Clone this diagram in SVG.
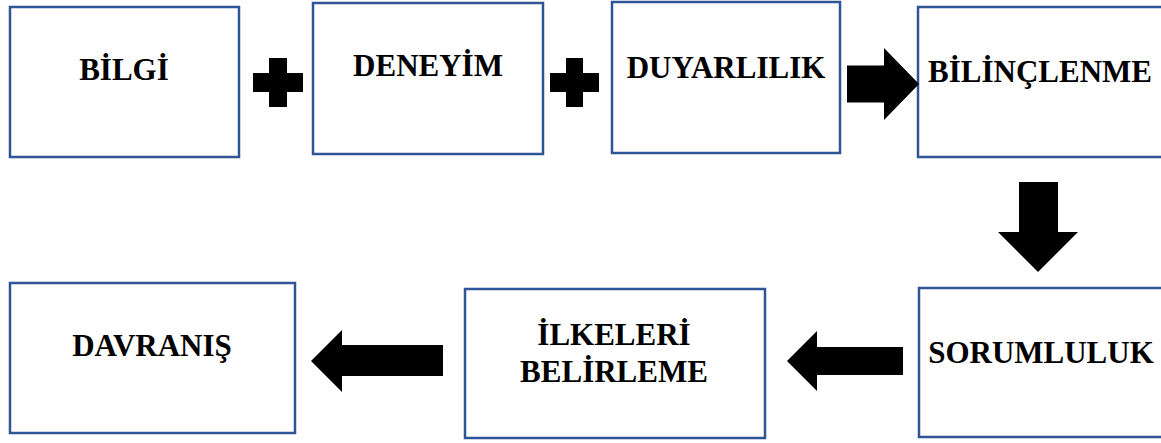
<svg xmlns="http://www.w3.org/2000/svg" width="1161" height="443" viewBox="0 0 1161 443">
<style>
.box{fill:#ffffff;stroke:#2F5597;stroke-width:2.5}
.lbl{font-family:"Liberation Serif","Times New Roman",serif;font-weight:bold;font-size:31px;fill:#000000;text-anchor:middle}
.shape{fill:#000000}
</style>
<rect width="1161" height="443" fill="#ffffff"/>
<g id="node-bilgi">
<rect class="box" x="10" y="7" width="229" height="150"/>
<text class="lbl" x="124" y="80">BİLGİ</text>
</g>
<g id="node-deneyim">
<rect class="box" x="313" y="3" width="230" height="151"/>
<text class="lbl" x="428" y="76">DENEYİM</text>
</g>
<g id="node-duyarlilik">
<rect class="box" x="612" y="2" width="228" height="151"/>
<text class="lbl" x="726" y="78">DUYARLILIK</text>
</g>
<g id="node-bilinclenme">
<rect class="box" x="918" y="7" width="260" height="150"/>
<text class="lbl" x="1040" y="82">BİLİNÇLENME</text>
</g>
<g id="node-sorumluluk">
<rect class="box" x="919" y="288" width="260" height="149"/>
<text class="lbl" x="1041" y="363">SORUMLULUK</text>
</g>
<g id="node-ilkeleri">
<rect class="box" x="465" y="289" width="300" height="149"/>
<text class="lbl" x="614" y="345">İLKELERİ</text>
<text class="lbl" x="614" y="382">BELİRLEME</text>
</g>
<g id="node-davranis">
<rect class="box" x="10" y="283" width="285" height="150"/>
<text class="lbl" x="152" y="356">DAVRANIŞ</text>
</g>
<g id="connectors">
<path class="shape" d="M253 73H269V58H287V73H303V92H287V107H269V92H253Z"/>
<path class="shape" d="M550 73H566V58H583V73H599V92H583V107H566V92H550Z"/>
<path class="shape" d="M847 65.5H884V48L919 84L884 120V102.5H847Z"/>
<path class="shape" d="M1019 182H1058V232H1078L1038 272L998 232H1019Z"/>
<path class="shape" d="M903 347V375H817V391L787 361L817 331V347Z"/>
<path class="shape" d="M443 345V376H342V392L311 361L342 330V345Z"/>
</g>
</svg>
